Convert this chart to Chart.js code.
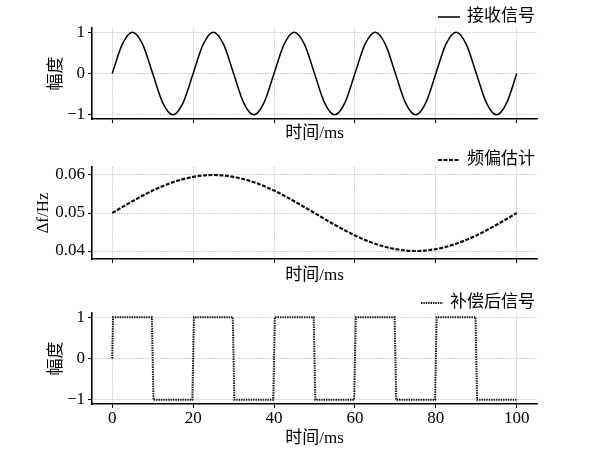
<!DOCTYPE html>
<html>
<head>
<meta charset="utf-8">
<script src="https://cdn.jsdelivr.net/npm/chart.js@4.4.1/dist/chart.umd.min.js"></script>
<style>
  html, body { margin: 0; padding: 0; background: #fff; width: 600px; height: 450px; overflow: hidden; }
  canvas { position: absolute; left: 0; }
</style>
</head>
<body>
<canvas id="c1" width="600" height="144" style="top:0px"></canvas>
<canvas id="c2" width="600" height="142" style="top:144px"></canvas>
<canvas id="c3" width="600" height="164" style="top:286px"></canvas>
<script>
// ---- data ----
const xTicks = [0, 20, 40, 60, 80, 100];
const xTickLabels = ['0', '20', '40', '60', '80', '100'];
const xLabel = '时间/ms';

// received signal (sampled every 2.5 ms, 5 periods over 100 ms)
const rxTime = [0,2.5,5,7.5,10,12.5,15,17.5,20,22.5,25,27.5,30,32.5,35,37.5,
  40,42.5,45,47.5,50,52.5,55,57.5,60,62.5,65,67.5,70,72.5,75,77.5,
  80,82.5,85,87.5,90,92.5,95,97.5,100];
const rxValues = [0,0.71,1,0.71,0,-0.71,-1,-0.71, 0,0.71,1,0.71,0,-0.71,-1,-0.71,
  0,0.71,1,0.71,0,-0.71,-1,-0.71, 0,0.71,1,0.71,0,-0.71,-1,-0.71,
  0,0.71,1,0.71,0,-0.71,-1,-0.71, 0];
const rxLabel = '接收信号';
const rxTicks = [-1, 0, 1];
const rxTickLabels = ['\u22121', '0', '1'];
const ampLabel = '幅度';

// frequency-offset estimate (sampled every 5 ms)
const foTime = [0,5,10,15,20,25,30,35,40,45,50,55,60,65,70,75,80,85,90,95,100];
const foValues = [0.05,0.0531,0.0559,0.0581,0.0595,0.06,0.0595,0.0581,0.0559,0.0531,
  0.05,0.0469,0.0441,0.0419,0.0405,0.04,0.0405,0.0419,0.0441,0.0469,0.05];
const foLabel = '频偏估计';
const foTicks = [0.04, 0.05, 0.06];
const foTickLabels = ['0.04', '0.05', '0.06'];
const foAxisLabel = 'Δf/Hz';

// compensated signal
const cpTime = [0,0.2,9.8,10.2,19.8,20.2,29.8,30.2,39.8,40.2,49.8,50.2,59.8,60.2,69.8,70.2,79.8,80.2,89.8,90.2,100];
const cpValues = [0,1,1,-1,-1,1,1,-1,-1,1,1,-1,-1,1,1,-1,-1,1,1,-1,-1];
const cpLabel = '补偿后信号';

// ---- drawing ----
const FONT = '"Liberation Serif", "Noto Sans CJK SC", serif';
Chart.defaults.font.family = FONT;
Chart.defaults.font.size = 17;
Chart.defaults.color = '#000';

const lineLegend = {
  id: 'lineLegend',
  afterDraw(chart, args, opts) {
    const ctx = chart.ctx;
    const ds = chart.data.datasets[0];
    ctx.save();
    ctx.font = '17px ' + FONT;
    const w = ctx.measureText(ds.label).width;
    const tx = opts.right - w;
    ctx.fillStyle = '#000';
    ctx.textBaseline = 'middle';
    ctx.textAlign = 'left';
    ctx.fillText(ds.label, tx, opts.y);
    ctx.strokeStyle = ds.borderColor;
    ctx.lineWidth = ds.borderWidth;
    ctx.setLineDash(ds.borderDash || []);
    ctx.beginPath();
    ctx.moveTo(tx - 7 - 22, opts.y);
    ctx.lineTo(tx - 7, opts.y);
    ctx.stroke();
    ctx.restore();
  }
};

function pts(xs, ys) { return xs.map((x, i) => ({ x: x, y: ys[i] })); }

function makeChart(id, cfg) {
  const yTickVals = cfg.yTicks, yTickLbls = cfg.yTickLabels;
  return new Chart(document.getElementById(id), {
    type: 'line',
    data: { datasets: [cfg.dataset] },
    plugins: [lineLegend],
    options: {
      responsive: false,
      animation: false,
      events: [],
      layout: { padding: cfg.padding },
      plugins: {
        legend: { display: false },
        tooltip: { enabled: false },
        lineLegend: { right: 535, y: cfg.legendY }
      },
      elements: { point: { radius: 0 } },
      scales: {
        x: {
          type: 'linear',
          min: -5, max: 105,
          afterBuildTicks: s => { s.ticks = xTicks.map(v => ({ value: v })); },
          afterFit: s => { s.height = cfg.xHeight; },
          ticks: {
            display: cfg.showXTicks,
            padding: 0,
            maxRotation: 0,
            autoSkip: false,
            callback: (v) => xTickLabels[xTicks.indexOf(v)]
          },
          grid: {
            color: '#b4b4b4', lineWidth: 0.8,
            drawTicks: true, tickLength: 4, tickColor: '#000', tickWidth: 1.1, tickBorderDash: []
          },
          border: { display: true, color: '#000', width: 1.6, dash: [1.2, 1.2] },
          title: { display: true, text: xLabel, padding: 0, font: { size: 17, lineHeight: 1.2 } }
        },
        y: {
          type: 'linear',
          min: cfg.yMin, max: cfg.yMax,
          afterBuildTicks: s => { s.ticks = yTickVals.map(v => ({ value: v })); },
          afterFit: s => { s.width = cfg.yWidth; },
          ticks: {
            padding: 3,
            autoSkip: false,
            callback: (v) => {
              let i = yTickVals.findIndex(t => Math.abs(t - v) < 1e-9);
              return yTickLbls[i];
            }
          },
          grid: {
            color: '#b4b4b4', lineWidth: 0.8,
            drawTicks: true, tickLength: 4, tickColor: '#000', tickWidth: 1.1, tickBorderDash: []
          },
          border: { display: true, color: '#000', width: 1.6, dash: [1.2, 1.2] },
          title: { display: true, text: cfg.yLabel, padding: 0, font: { size: 17, lineHeight: 1.2 } }
        }
      }
    }
  });
}

makeChart('c1', {
  dataset: {
    label: rxLabel, data: pts(rxTime, rxValues),
    borderColor: '#000', borderWidth: 1.5, fill: false,
    cubicInterpolationMode: 'monotone'
  },
  padding: { top: 28, left: 46, right: 63, bottom: 0 },
  xHeight: 25, yWidth: 46, showXTicks: false, legendY: 17,
  yMin: -1.1, yMax: 1.1, yTicks: rxTicks, yTickLabels: rxTickLabels, yLabel: ampLabel
});

makeChart('c2', {
  dataset: {
    label: foLabel, data: pts(foTime, foValues),
    borderColor: '#111', borderWidth: 2.2, borderDash: [4, 1.5], fill: false,
    cubicInterpolationMode: 'monotone'
  },
  padding: { top: 23, left: 33, right: 63, bottom: 0 },
  xHeight: 27, yWidth: 59, showXTicks: false, legendY: 16,
  yMin: 0.0379, yMax: 0.0621, yTicks: foTicks, yTickLabels: foTickLabels, yLabel: foAxisLabel
});

makeChart('c3', {
  dataset: {
    label: cpLabel, data: pts(cpTime, cpValues),
    borderColor: '#111', borderWidth: 2, borderDash: [1.4, 1], fill: false,
    tension: 0
  },
  padding: { top: 27, left: 46, right: 63, bottom: 1 },
  xHeight: 45, yWidth: 46, showXTicks: true, legendY: 17,
  yMin: -1.1, yMax: 1.1, yTicks: rxTicks, yTickLabels: rxTickLabels, yLabel: ampLabel
});
</script>
</body>
</html>
